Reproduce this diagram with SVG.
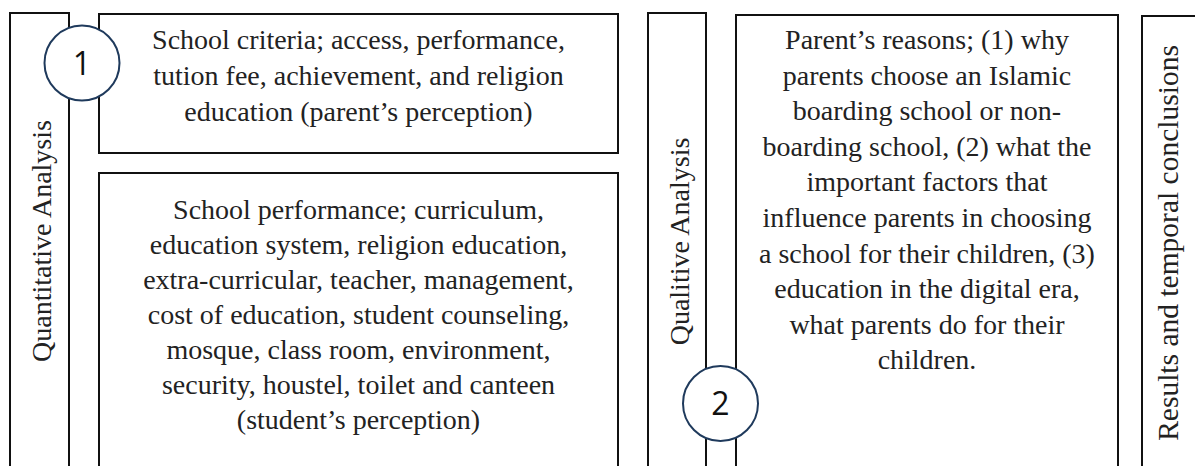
<svg xmlns="http://www.w3.org/2000/svg" width="1195" height="466" viewBox="0 0 1195 466">
<style>
.box{fill:#fff;stroke:#111;stroke-width:2}
.open{fill:none;stroke:#111;stroke-width:2}
.t{font-family:"Liberation Serif","Times New Roman",serif;font-size:28px;fill:#222;text-anchor:middle}
.badge{fill:#fff;stroke:#1f3a5c;stroke-width:2}
.num{font-family:"Open Sans","Liberation Sans",sans-serif;font-size:32px;fill:#111;text-anchor:middle}
</style>
<rect width="1195" height="466" fill="#fff"/>
<g id="quantitative">
<path class="open" d="M10,467 V13 H69 V467"/>
<text class="t" transform="translate(51,241) rotate(-90)">Quantitative Analysis</text>
</g>
<g id="criteria">
<rect class="box" x="99" y="14" width="519" height="139"/>
<text class="t" x="358.5" y="49">School criteria; access, performance,</text>
<text class="t" x="358.5" y="85">tution fee, achievement, and religion</text>
<text class="t" x="358.5" y="120.5">education (parent’s perception)</text>
</g>
<g id="performance">
<path class="open" d="M99,467 V173 H618 V467"/>
<text class="t" x="358.5" y="219">School performance; curriculum,</text>
<text class="t" x="358.5" y="254">education system, religion education,</text>
<text class="t" x="358.5" y="289">extra-curricular, teacher, management,</text>
<text class="t" x="358.5" y="324">cost of education, student counseling,</text>
<text class="t" x="358.5" y="359">mosque, class room, environment,</text>
<text class="t" x="358.5" y="394">security, houstel, toilet and canteen</text>
<text class="t" x="358.5" y="429">(student’s perception)</text>
</g>
<g id="badge1">
<circle class="badge" cx="82" cy="63" r="37.5"/>
<text class="num" x="82" y="74.5">1</text>
</g>
<g id="qualitive">
<path class="open" d="M648,467 V13 H706 V467"/>
<text class="t" transform="translate(689,241.5) rotate(-90)">Qualitive Analysis</text>
</g>
<g id="reasons">
<path class="open" d="M736,467 V15 H1118 V467"/>
<text class="t" x="927" y="49">Parent’s reasons; (1) why</text>
<text class="t" x="927" y="84.6">parents choose an Islamic</text>
<text class="t" x="927" y="120.2">boarding school or non-</text>
<text class="t" x="927" y="155.8">boarding school, (2) what the</text>
<text class="t" x="927" y="191.4">important factors that</text>
<text class="t" x="927" y="227">influence parents in choosing</text>
<text class="t" x="927" y="262.6">a school for their children, (3)</text>
<text class="t" x="927" y="298.2">education in the digital era,</text>
<text class="t" x="927" y="333.8">what parents do for their</text>
<text class="t" x="927" y="369.4">children.</text>
</g>
<g id="badge2">
<circle class="badge" cx="720.5" cy="403.5" r="37.5"/>
<text class="num" x="720.5" y="415">2</text>
</g>
<g id="results">
<path class="open" d="M1142,467 V16 H1200"/>
<text class="t" style="font-size:29.5px" transform="translate(1178,243) rotate(-90)">Results and temporal conclusions</text>
</g>
<g id="connectors"></g>
</svg>
